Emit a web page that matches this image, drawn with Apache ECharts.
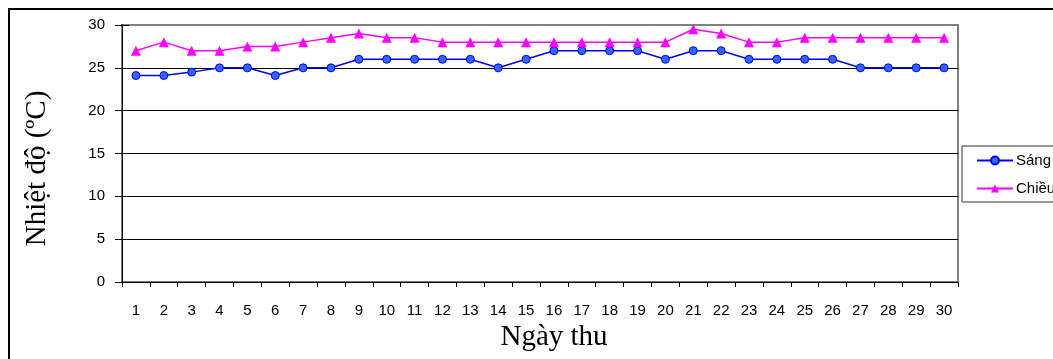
<!DOCTYPE html>
<html>
<head>
<meta charset="utf-8">
<script src="https://cdn.jsdelivr.net/npm/echarts@6/dist/echarts.min.js"></script>
<style>
  html, body { margin: 0; padding: 0; background: #ffffff; }
  #chart { width: 1053px; height: 359px; }
</style>
</head>
<body>
<div id="chart"></div>
<script>
// Daily temperature readings (°C), morning and afternoon
const days = ['1','2','3','4','5','6','7','8','9','10','11','12','13','14','15','16','17','18','19','20','21','22','23','24','25','26','27','28','29','30'];
const sang = [24.1, 24.1, 24.5, 25, 25, 24.1, 25, 25, 26, 26, 26, 26, 26, 25, 26, 27, 27, 27, 27, 26, 27, 27, 26, 26, 26, 26, 25, 25, 25, 25];
const chieu = [27, 28, 27, 27, 27.5, 27.5, 28, 28.5, 29, 28.5, 28.5, 28, 28, 28, 28, 28, 28, 28, 28, 28, 29.5, 29, 28, 28, 28.5, 28.5, 28.5, 28.5, 28.5, 28.5];
const yTicks = [0, 5, 10, 15, 20, 25, 30];

const labelFont = '"Liberation Sans", Arial, sans-serif';
const titleFont = '"Liberation Serif", "Times New Roman", serif';

const chart = echarts.init(document.getElementById('chart'), null, { renderer: 'canvas' });

chart.setOption({
  backgroundColor: '#ffffff',
  animation: false,
  grid: {
    left: 122, top: 25, right: 95, bottom: 77,
    show: true, borderColor: '#808080', borderWidth: 2, backgroundColor: 'transparent'
  },
  graphic: [{
    type: 'rect',
    shape: { x: 9, y: 9, width: 1200, height: 500 },
    style: { fill: 'transparent', stroke: '#000000', lineWidth: 2 },
    silent: true
  }],
  legend: {
    orient: 'vertical',
    left: 962, top: 146,
    padding: [7, 30, 6, 14],
    itemGap: 13,
    itemWidth: 36, itemHeight: 10,
    borderColor: '#333333', borderWidth: 1,
    backgroundColor: '#ffffff',
    textStyle: { fontFamily: labelFont, fontSize: 15, color: '#000000', padding: [0, 0, 0, -2] },
    data: ['Sáng', 'Chiều']
  },
  xAxis: {
    type: 'category',
    data: days,
    boundaryGap: true,
    name: 'Ngày thu',
    nameLocation: 'middle',
    nameGap: 38,
    nameTextStyle: { fontFamily: titleFont, fontSize: 29, color: '#000000', padding: [0, 0, 0, 28] },
    axisLine: { lineStyle: { color: '#000000', width: 1 } },
    axisTick: { show: true, alignWithLabel: false, length: 5, lineStyle: { color: '#000000' } },
    axisLabel: { fontFamily: labelFont, fontSize: 15, color: '#000000', margin: 21, interval: 0 },
    splitLine: { show: false }
  },
  yAxis: [{
    type: 'value',
    min: 0, max: 30, interval: 5,
    name: 'Nhiệt độ (ºC)',
    nameLocation: 'middle',
    nameGap: 70,
    nameTextStyle: { fontFamily: titleFont, fontSize: 29, color: '#000000', padding: [0, 30, 0, 0] },
    axisLine: { show: true, lineStyle: { color: '#000000', width: 1 } },
    axisTick: { show: true, length: 7, lineStyle: { color: '#000000' } },
    axisLabel: {
      fontFamily: labelFont, fontSize: 15, color: '#000000', margin: 17,
      formatter: v => (yTicks.indexOf(v) >= 0 ? String(v) : '')
    },
    splitLine: { show: true, showMinLine: false, showMaxLine: false, lineStyle: { color: '#000000', width: 1 } }
  }, {
    type: 'value',
    min: 0, max: 30, interval: 5,
    position: 'left',
    axisLine: { show: true, lineStyle: { color: '#000000', width: 1 } },
    axisTick: { show: true, inside: true, length: 7, lineStyle: { color: '#000000' } },
    axisLabel: { show: false },
    splitLine: { show: false }
  }],
  series: [{
    name: 'Sáng',
    type: 'line',
    data: sang,
    symbol: 'circle',
    symbolSize: 8,
    lineStyle: { color: '#0000ff', width: 1.5 },
    itemStyle: { color: '#3366ff', borderColor: '#0000ff', borderWidth: 1 },
    z: 3
  }, {
    name: 'Chiều',
    type: 'line',
    data: chieu,
    symbol: 'triangle',
    symbolSize: [10, 10],
    lineStyle: { color: '#ff00ff', width: 1.5 },
    itemStyle: { color: '#ff00ff', borderColor: '#ff00ff', borderWidth: 0 },
    z: 3
  }]
});
</script>
</body>
</html>
